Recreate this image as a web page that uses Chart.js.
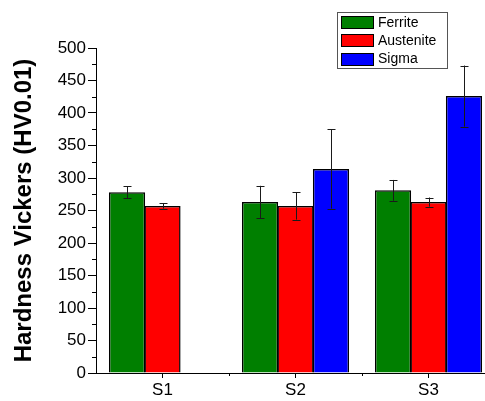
<!DOCTYPE html>
<html>
<head>
<meta charset="utf-8">
<script src="https://cdn.jsdelivr.net/npm/chart.js@4/dist/chart.umd.min.js"></script>
<style>
  html, body { margin: 0; padding: 0; background: #ffffff; overflow: hidden; }
  #wrap { width: 485px; height: 401px; overflow: hidden; }
  canvas { display: block; }
</style>
</head>
<body>
<div id="wrap"><canvas id="c" width="495" height="401"></canvas></div>
<script>
// Samples and phase hardness (HV0.01), mean values with standard deviations
const samples = ['S1', 'S2', 'S3'];
const ferrite = [278, 263, 281];
const ferriteErr = [9, 25, 16];
const austenite = [257, 257, 263];
const austeniteErr = [4, 21, 7];
const sigma = [null, 314, 426];
const sigmaErr = [null, 61, 47];
const yTicks = [0, 50, 100, 150, 200, 250, 300, 350, 400, 450, 500];

const FONT = "'Liberation Sans', Arial, sans-serif";

// Vertical error bars with end caps, drawn over each bar
const errorBars = {
  id: 'errorBars',
  afterDatasetsDraw(chart) {
    const ctx = chart.ctx;
    const y = chart.scales.y;
    chart.data.datasets.forEach((ds, di) => {
      const meta = chart.getDatasetMeta(di);
      meta.data.forEach((bar, i) => {
        const v = ds.data[i], e = ds.errors[i];
        if (v == null || e == null) return;
        const top = y.getPixelForValue(v + e);
        const bot = y.getPixelForValue(v - e);
        const x = Math.round(bar.x) + 0.5;
        ctx.save();
        ctx.strokeStyle = '#1a1a1a';
        ctx.lineWidth = 1;
        ctx.beginPath();
        ctx.moveTo(x, top); ctx.lineTo(x, bot);
        ctx.moveTo(x - 4, Math.round(top) + 0.5); ctx.lineTo(x + 4, Math.round(top) + 0.5);
        ctx.moveTo(x - 4, Math.round(bot) + 0.5); ctx.lineTo(x + 4, Math.round(bot) + 0.5);
        ctx.stroke();
        ctx.restore();
      });
    });
  }
};

// Minor tick marks on both axes
const minorTicks = {
  id: 'minorTicks',
  afterDraw(chart) {
    const ctx = chart.ctx;
    const x = chart.scales.x, y = chart.scales.y;
    const area = chart.chartArea;
    ctx.save();
    ctx.strokeStyle = '#000';
    ctx.lineWidth = 1;
    ctx.beginPath();
    for (let v = 25; v < 500; v += 50) {
      const py = Math.round(y.getPixelForValue(v)) + 0.5;
      ctx.moveTo(area.left - 4, py); ctx.lineTo(area.left, py);
    }
    for (let i = 0; i < samples.length - 1; i++) {
      const px = Math.round((x.getPixelForValue(i) + x.getPixelForValue(i + 1)) / 2) + 0.5;
      ctx.moveTo(px, area.bottom); ctx.lineTo(px, area.bottom + 3);
    }
    ctx.stroke();
    ctx.restore();
  }
};

// Boxed legend inside the upper right of the plot
const boxLegend = {
  id: 'boxLegend',
  afterDraw(chart) {
    const ctx = chart.ctx;
    const bx = 337, by = 12, bw = 110, bh = 56;
    ctx.save();
    ctx.fillStyle = '#ffffff';
    ctx.fillRect(bx, by, bw, bh);
    ctx.strokeStyle = '#555';
    ctx.lineWidth = 1;
    ctx.strokeRect(bx + 0.5, by + 0.5, bw, bh);
    ctx.font = '14px ' + FONT;
    ctx.textBaseline = 'middle';
    chart.data.datasets.forEach((ds, i) => {
      const cy = by + 10.5 + i * 18.3;
      ctx.fillStyle = ds.backgroundColor;
      ctx.fillRect(341, Math.round(cy - 6.5), 33, 13);
      ctx.strokeStyle = '#000';
      ctx.strokeRect(341.5, Math.round(cy - 6.5) + 0.5, 32, 12);
      ctx.fillStyle = '#000';
      ctx.fillText(ds.label, 378, cy + 0.5);
    });
    ctx.restore();
  }
};

new Chart(document.getElementById('c'), {
  type: 'bar',
  data: {
    labels: samples,
    datasets: [
      { label: 'Ferrite', data: ferrite, errors: ferriteErr, backgroundColor: '#007f00' },
      { label: 'Austenite', data: austenite, errors: austeniteErr, backgroundColor: '#ff0000' },
      { label: 'Sigma', data: sigma, errors: sigmaErr, backgroundColor: '#0000ff' }
    ]
  },
  options: {
    responsive: false,
    devicePixelRatio: 1,
    animation: false,
    layout: { padding: { top: 48, right: 0, left: 0, bottom: 0 } },
    datasets: {
      bar: {
        borderColor: '#000',
        borderWidth: 1.5,
        borderSkipped: 'start',
        categoryPercentage: 0.8,
        barPercentage: 1.02
      }
    },
    plugins: { legend: { display: false }, tooltip: { enabled: false } },
    scales: {
      x: {
        offset: true,
        grid: { offset: false, drawOnChartArea: false, drawTicks: true, tickLength: 5, color: '#000' },
        border: { display: true, color: '#000', width: 1 },
        ticks: { color: '#000', font: { family: FONT, size: 17 }, padding: 2 },
        afterFit(s) { s.height = 28; }
      },
      y: {
        min: 0, max: 500,
        afterBuildTicks(s) { s.ticks = yTicks.map(v => ({ value: v })); },
        grid: { drawOnChartArea: false, drawTicks: true, tickLength: 8, color: '#000' },
        border: { display: true, color: '#000', width: 1 },
        ticks: { color: '#000', font: { family: FONT, size: 17 }, padding: 2 },
        title: {
          display: true,
          text: 'Hardness Vickers (HV0.01)',
          color: '#000',
          font: { family: FONT, size: 24, weight: 'bold' },
          padding: { top: 10, bottom: 0 }
        },
        afterFit(s) { s.width = 96; }
      }
    }
  },
  plugins: [errorBars, minorTicks, boxLegend]
});
</script>
</body>
</html>
